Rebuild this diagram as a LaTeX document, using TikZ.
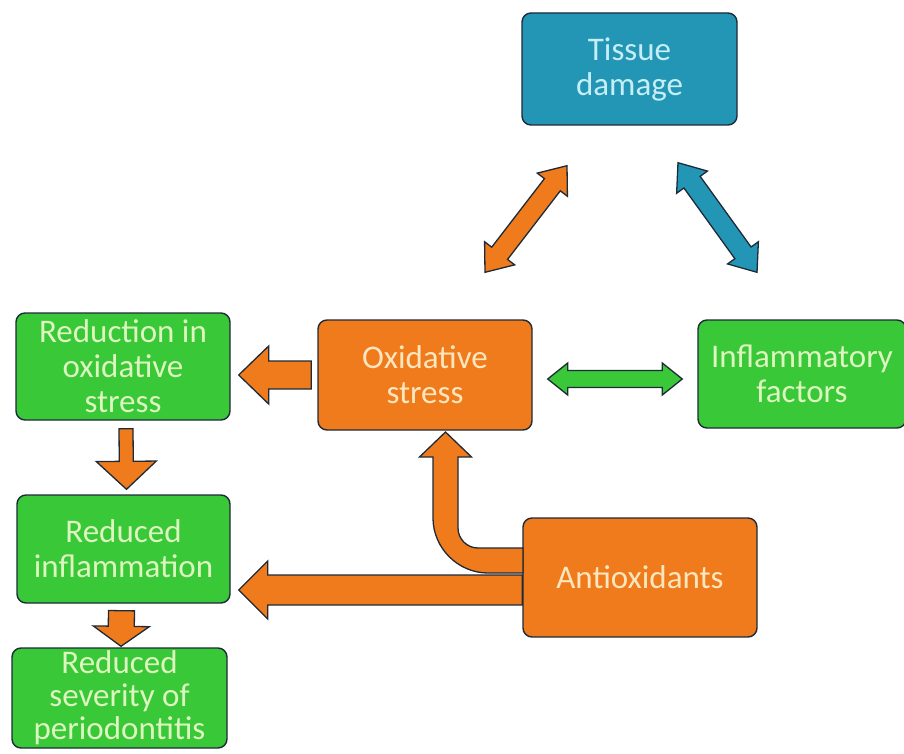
\documentclass[tikz,border=0pt]{standalone}
\usepackage{fontspec}
\setmainfont{Carlito}
\usetikzlibrary{calc}

\definecolor{boxedge}{HTML}{1E2A38}
\definecolor{oxorange}{HTML}{F07B1C}
\definecolor{leafgreen}{HTML}{38C838}
\definecolor{tealblue}{HTML}{2396B6}
\definecolor{creamtext}{HTML}{FCE6BE}
\definecolor{palegreen}{HTML}{DDF5BE}
\definecolor{palecyan}{HTML}{C6EEF6}

\tikzset{
  box/.style={draw=boxedge,line width=1.4pt,rounded corners=9pt,inner sep=0pt,
    align=center,font=\fontsize{33}{35}\selectfont},
  orangebox/.style={box,fill=oxorange,text=creamtext},
  greenbox/.style={box,fill=leafgreen,text=palegreen},
  bluebox/.style={box,fill=tealblue,text=palecyan},
  fat/.style={draw=boxedge,line width=1.3pt,line join=miter,fill=#1}
}

% colour, start, tip, shaft half width, head half width, head length
\newcommand{\fatarrow}[6]{%
  \coordinate (fa-h) at ($(#3)!#6!(#2)$);
  \filldraw[fat=#1] ($(#2)!#4!90:(#3)$) -- ($(fa-h)!#4!-90:(#2)$) -- ($(fa-h)!#5!-90:(#2)$)
    -- (#3) -- ($(fa-h)!#5!90:(#2)$) -- ($(fa-h)!#4!90:(#2)$) -- ($(#2)!#4!-90:(#3)$) -- cycle;
}
\newcommand{\fatdouble}[6]{%
  \coordinate (fd-a) at ($(#2)!#6!(#3)$);
  \coordinate (fd-b) at ($(#3)!#6!(#2)$);
  \filldraw[fat=#1] (#2) -- ($(fd-a)!#5!90:(#3)$) -- ($(fd-a)!#4!90:(#3)$)
    -- ($(fd-b)!#4!-90:(#2)$) -- ($(fd-b)!#5!-90:(#2)$) -- (#3)
    -- ($(fd-b)!#5!90:(#2)$) -- ($(fd-b)!#4!90:(#2)$)
    -- ($(fd-a)!#4!-90:(#3)$) -- ($(fd-a)!#5!-90:(#3)$) -- cycle;
}

\begin{document}
\begin{tikzpicture}[x=1pt,y=-1pt]
  \useasboundingbox (0,0) rectangle (904,754);

  \node[bluebox,minimum width=215pt,minimum height=112pt] (tissue) at (629.5,69) {Tissue\\damage};
  \node[greenbox,minimum width=214pt,minimum height=107pt] (reduction) at (123,366.5) {Reduction in\\oxidative\\stress};
  \node[orangebox,minimum width=214pt,minimum height=110pt] (oxstress) at (425,375) {Oxidative\\stress};
  \node[greenbox,minimum width=208pt,minimum height=108pt] (inflam) at (802,374) {Inflammatory\\factors};
  \node[greenbox,minimum width=213pt,minimum height=108pt] (redinfl) at (123.5,549) {Reduced\\inflammation};
  \node[greenbox,minimum width=215pt,minimum height=100pt,font=\fontsize{33}{33}\selectfont] (severity) at (119.5,698) {Reduced\\severity of\\periodontitis};
  \node[orangebox,minimum width=234pt,minimum height=119pt] (antiox) at (640,577.5) {Antioxidants};

  \coordinate (os-a) at ($(oxstress.west)+(-6,0)$);
  \coordinate (os-b) at ($(oxstress.west -| reduction.east)+(8,0)$);
  \fatarrow{oxorange}{os-a}{os-b}{14pt}{29pt}{30pt}

  \coordinate (rd-a) at ($(reduction.south)+(3,8)$);
  \coordinate (rd-b) at ($(redinfl.north)+(3,-5)$);
  \fatarrow{oxorange}{rd-a}{rd-b}{7pt}{30pt}{28pt}

  \coordinate (ri-a) at ($(redinfl.south)+(-2,7)$);
  \coordinate (ri-b) at ($(severity.north)+(1.5,-1)$);
  \fatarrow{oxorange}{ri-a}{ri-b}{13pt}{28pt}{20pt}

  \coordinate (ax-a) at ($(antiox.west)+(0,12.5)$);
  \coordinate (ax-b) at ($(ax-a -| redinfl.east)+(8,0)$);
  \fatarrow{oxorange}{ax-a}{ax-b}{15pt}{29pt}{29pt}

  \coordinate (bend) at ($(oxstress.south |- antiox.center)+(20.5,-17)$);
  \begin{scope}[shift={(bend)}]
    \filldraw[fat=oxorange] (77.5,12.5) -- (42.5,12.5)
      .. controls (12.5,12.5) and (-12.5,-12.5) .. (-12.5,-42.5)
      -- (-12.5,-103.5) -- (-26,-103.5) -- (0,-128.5) -- (26,-103.5) -- (12.5,-103.5)
      -- (12.5,-32.5) .. controls (12.5,-21.5) and (21.5,-12.5) .. (32.5,-12.5)
      -- (77.5,-12.5) -- cycle;
  \end{scope}

  \coordinate (td-a) at ($(oxstress.north)+(60,-47)$);
  \coordinate (td-b) at ($(tissue.south)+(-62.5,40)$);
  \fatdouble{oxorange}{td-a}{td-b}{10pt}{19pt}{24pt}

  \coordinate (tf-a) at ($(tissue.south)+(48.5,37)$);
  \coordinate (tf-b) at ($(inflam.north)+(-45,-47)$);
  \fatdouble{tealblue}{tf-a}{tf-b}{10pt}{19pt}{24pt}

  \coordinate (oi-a) at ($(oxstress.east)+(15,4)$);
  \coordinate (oi-b) at ($(inflam.west)+(-15,5)$);
  \fatdouble{leafgreen}{oi-a}{oi-b}{8.5pt}{16pt}{20pt}
\end{tikzpicture}
\end{document}
